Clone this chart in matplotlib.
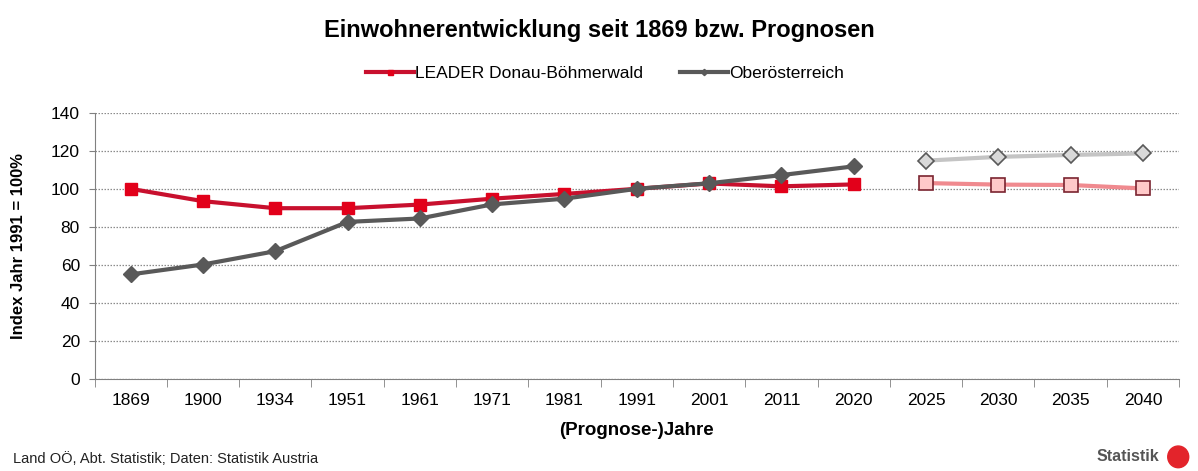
import matplotlib.pyplot as plt
from matplotlib.patches import Ellipse

plt.rcParams["font.family"] = ["Liberation Sans", "DejaVu Sans"]

years = ["1869", "1900", "1934", "1951", "1961", "1971", "1981",
         "1991", "2001", "2011", "2020", "2025", "2030", "2035", "2040"]

# index values, 1991 = 100
leader_hist = [100, 93.5, 89.8, 89.8, 91.7, 94.8, 97.3, 100, 102.8, 101.3, 102.3]
ooe_hist = [55, 60.2, 67.2, 82.6, 84.4, 91.8, 94.8, 100, 102.9, 107.2, 111.8]
leader_prog = [103, 102.2, 102.0, 100.2]
ooe_prog = [114.8, 116.8, 117.8, 118.6]

n_hist = len(leader_hist)
x_hist = list(range(n_hist))
x_prog = list(range(n_hist, len(years)))

fig = plt.figure(figsize=(11.98, 4.71), dpi=100)
ax = fig.add_axes([0.0789, 0.1953, 0.9053, 0.5654])

red_line = "#c8102e"
red_mark = "#e2001a"
grey = "#595959"

ax.plot(x_hist, leader_hist, color=red_line, lw=3, marker="s", ms=9,
        mfc=red_mark, mec=red_mark, zorder=3,
        label="LEADER Donau-Böhmerwald")
ax.plot(x_hist, ooe_hist, color=grey, lw=3, marker="D", ms=8,
        mfc=grey, mec=grey, zorder=4, label="Oberösterreich")

ax.plot(x_prog, leader_prog, color="#f08a8f", lw=3, marker="s", ms=9.5,
        mfc="#ffc9c9", mec="#7a2430", mew=1.2, zorder=3)
ax.plot(x_prog, ooe_prog, color="#c4c4c4", lw=3, marker="D", ms=8.5,
        mfc="#d9d9d9", mec="#595959", mew=1.2, zorder=4)

ax.set_xlim(-0.5, len(years) - 0.5)
ax.set_ylim(0, 140)
ax.set_yticks(range(0, 141, 20))
ax.set_xticks(range(len(years)))
ax.set_xticklabels(years)
ax.set_xticks([i - 0.5 for i in range(len(years) + 1)], minor=True)
ax.tick_params(axis="x", which="major", length=0, pad=10, labelsize=12.5)
ax.tick_params(axis="x", which="minor", length=6, color="#808080")
ax.tick_params(axis="y", length=4.5, color="#808080", labelsize=12.5, pad=6)

ax.yaxis.grid(True, linestyle=(0, (1.2, 1.2)), color="#8c8c8c", lw=0.9)
ax.set_axisbelow(True)
for s in ["top", "right"]:
    ax.spines[s].set_visible(False)
ax.spines["left"].set_color("#808080")
ax.spines["bottom"].set_color("#808080")

ax.set_ylabel("Index Jahr 1991 = 100%", fontsize=12, fontweight="bold")
ax.yaxis.set_label_coords(-0.063, 0.5)
ax.set_xlabel("(Prognose-)Jahre", fontsize=13.5, fontweight="bold",
              labelpad=10)

fig.text(0.5, 0.936, "Einwohnerentwicklung seit 1869 bzw. Prognosen",
         ha="center", va="center", fontsize=17, fontweight="bold")

fig.legend(loc="center", bbox_to_anchor=(0.505, 0.845), ncol=2,
           frameon=False, fontsize=12.5, handlelength=2.8, markerscale=0.4,
           columnspacing=2.1, handletextpad=0.05)

fig.text(0.011, 0.025, "Land OÖ, Abt. Statistik; Daten: Statistik Austria",
         ha="left", va="center", fontsize=10.5, color="#222222")
fig.text(0.968, 0.03, "Statistik", ha="right", va="center", fontsize=11.5,
         fontweight="bold", color="#555555")
fig.patches.append(Ellipse((0.9835, 0.03), 0.0175, 0.046,
                           transform=fig.transFigure, color="#e3242b"))

fig.savefig("out.png", dpi=100)
